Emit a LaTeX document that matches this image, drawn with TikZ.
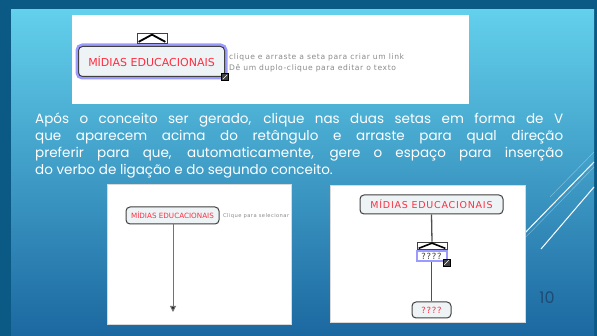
\documentclass[tikz,border=0pt]{standalone}
\usepackage{fontspec}
\setmainfont{Poppins}
\newfontfamily\uifont{DejaVu Sans}
\newfontfamily\uifontwide[LetterSpace=8]{DejaVu Sans}
\usetikzlibrary{arrows.meta,calc}
\definecolor{frame}{HTML}{0B5A86}
\definecolor{bgtop}{HTML}{63D0EC}
\definecolor{bgbot}{HTML}{1B68A0}
\definecolor{boxline}{HTML}{404040}
\definecolor{boxfill}{HTML}{EEF3F6}
\definecolor{conred}{HTML}{FF2E40}
\definecolor{glowc}{HTML}{9A9AFF}
\definecolor{hintgray}{HTML}{8A8A8A}
\definecolor{pagenum}{HTML}{1D4C74}
\definecolor{linkgray}{HTML}{505050}
\tikzset{
  shot/.style={fill=white, draw=none, inner sep=0},
  concept/.style={rounded corners=4pt, draw=boxline, fill=boxfill, line width=1pt,
     text=conred, inner sep=0, align=center},
  glow/.style={preaction={draw=glowc, line width=6pt}},
  hint/.style={text=hintgray, inner sep=0, anchor=west, align=left},
  handlebox/.style={draw=boxline, fill=white, line width=0.7pt, inner sep=0},
  resizeicon/.style={fill=boxline, draw=black, line width=0.3pt, inner sep=0, minimum size=7pt},
  linkline/.style={draw=linkgray, line width=1.3pt},
  deco/.style={draw=white, line width=1pt},
  decothin/.style={draw=white, line width=0.5pt, opacity=0.35}
}
\begin{document}
\begin{tikzpicture}[x=1pt,y=-1pt]
\useasboundingbox (0,0) rectangle (597,336);
\fill[frame] (0,0) rectangle (597,336);
\shade[top color=bgtop, bottom color=bgbot] (11,10) rectangle (594,336);
% decorative lines
\draw[decothin] (594,152) -- (550,197);
\draw[deco] (594,162) -- (520,238);
\draw[decothin] (594,167) -- (522,241);
\draw[deco] (594,187) -- (541,249);
% ---------- top screenshot ----------
\node[shot, minimum width=397pt, minimum height=89pt, anchor=north west] (s1) at (72,15) {};
\node[concept, glow, minimum width=146pt, minimum height=30pt, font=\uifont\fontsize{11}{13}\selectfont] (c1) at (151.5,61.5) {MÍDIAS EDUCACIONAIS};
\node[handlebox, minimum width=30pt, minimum height=10pt] (h1) at (152,38) {};
\draw[line width=1.8pt] ($(h1.south west)+(2,-1.5)$) -- ($(h1.north)+(0,2)$) -- ($(h1.south east)+(-2,-1.5)$);
\node[resizeicon] (r1) at (c1.south east) {};
\draw[white, line width=0.6pt] ($(r1.south west)+(1.5,-1.5)$) -- ($(r1.north east)+(-1.5,1.5)$);
\node[hint, font=\uifontwide\fontsize{7.6}{11}\selectfont] (t1) at (229,62.5) {clique e arraste a seta para criar um link\\Dê um duplo-clique para editar o texto};
% ---------- paragraph ----------
\node[anchor=north west, inner sep=0, text=white, text width=528pt, align=justify,
      font=\fontsize{13.5}{17}\selectfont] (para) at (35,113)
 {Após o conceito ser gerado, clique nas duas setas em forma de V\linebreak
  que aparecem acima do retângulo e arraste para qual direção\linebreak
  preferir para que, automaticamente, gere o espaço para inserção\linebreak
  do verbo de ligação e do segundo conceito.};
% ---------- bottom-left screenshot ----------
\node[shot, draw=black!15, minimum width=184pt, minimum height=140pt, anchor=north west] (s2) at (107,184) {};
\node[concept, minimum width=93pt, minimum height=17pt, font=\uifont\fontsize{7.2}{9}\selectfont] (c2) at (172.5,215.5) {MÍDIAS EDUCACIONAIS};
\node[hint, font=\uifontwide\fontsize{5.2}{6}\selectfont] (t2) at (223,216) {Clique para selecionar};
\coordinate (e2) at (173,312);
\draw[draw=black!55, line width=1pt, -{Triangle[length=6pt,width=6pt,fill=black!85]}] (c2.south -| e2) -- (e2);
% ---------- bottom-right screenshot ----------
\node[shot, draw=black!15, minimum width=195pt, minimum height=137pt, anchor=north west] (s3) at (330,185) {};
\node[concept, minimum width=143pt, minimum height=19pt, font=\uifontwide\fontsize{9.5}{11}\selectfont] (c3) at (431.5,204.5) {MÍDIAS EDUCACIONAIS};
\node[handlebox, minimum width=30pt, minimum height=7pt] (h3) at (432,245.5) {};
\draw[line width=1.6pt] ($(h3.south west)+(2,-1)$) -- ($(h3.north)+(0,1.5)$) -- ($(h3.south east)+(-2,-1)$);
\node[draw=glowc, line width=2pt, fill=white, minimum width=30pt, minimum height=10pt, inner sep=0, text=black!75, font=\uifontwide\fontsize{8.5}{9}\selectfont] (l3) at (431.5,256.5) {????};
\node[resizeicon] (r3) at (446.5,262.5) {};
\draw[white, line width=0.6pt] ($(r3.south west)+(1.5,-1.5)$) -- ($(r3.north east)+(-1.5,1.5)$);
\node[concept, minimum width=39pt, minimum height=16pt, font=\uifontwide\fontsize{8.5}{9}\selectfont] (c4) at (431.5,310) {????};
\draw[linkline] (c3.south) -- (h3.north);
\draw[linkline] (l3.south) -- (c4.north);
% page number
\node[text=pagenum, font=\fontsize{16}{18}\selectfont, inner sep=0] (pn) at (547,298) {10};
\end{tikzpicture}
\end{document}
